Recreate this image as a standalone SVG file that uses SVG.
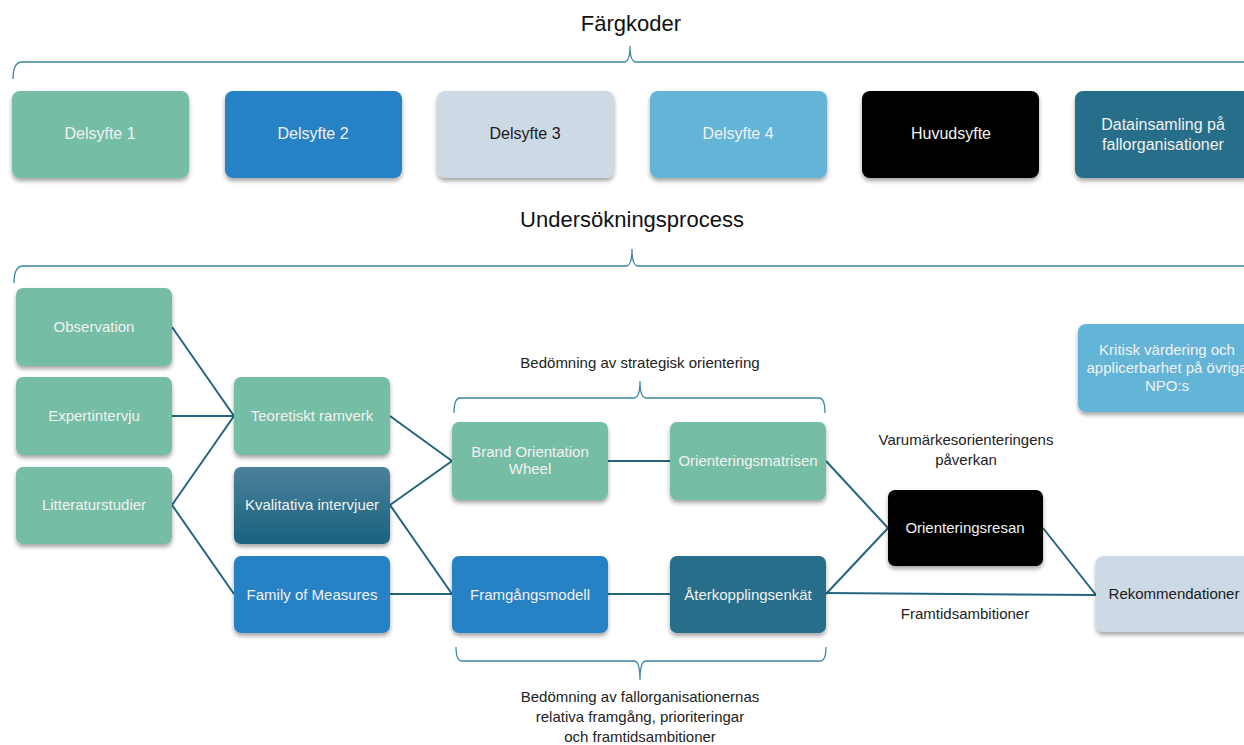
<svg xmlns="http://www.w3.org/2000/svg" width="1244" height="745" viewBox="0 0 1244 745">
  <style>
    .title { font-family: "Liberation Sans", Arial, sans-serif; font-size: 22px; fill: #111; text-anchor: middle; }
    .key   { font-family: "Liberation Sans", Arial, sans-serif; font-size: 16px; text-anchor: middle; }
    .nt    { font-family: "Liberation Sans", Arial, sans-serif; font-size: 15px; text-anchor: middle; }
    .lbl   { font-family: "Liberation Sans", Arial, sans-serif; font-size: 15px; fill: #222; text-anchor: middle; }
    .light { fill: #f2f2f2; }
    .dark  { fill: #1a1a1a; }
    .brace { fill: none; stroke: #3f86a3; stroke-width: 1.3; }
    .link  { fill: none; stroke: #23657f; stroke-width: 2; }
    .box   { filter: url(#shadow); }
    .green { fill: #76bda5; }
    .blue  { fill: #2781c5; }
    .pale  { fill: #cdd9e5; }
    .sky   { fill: #63b4d6; }
    .black { fill: #000000; }
    .teal  { fill: #256e8a; }
  </style>
  <defs>
    <filter id="shadow" x="-10%" y="-10%" width="120%" height="135%">
      <feDropShadow dx="0" dy="3" stdDeviation="2" flood-color="#000" flood-opacity="0.35"/>
    </filter>
    <linearGradient id="tealGrad" x1="0" y1="0" x2="0" y2="1">
      <stop offset="0" stop-color="#4b819b"/>
      <stop offset="1" stop-color="#19627f"/>
    </linearGradient>
  </defs>

  <rect width="1244" height="745" fill="#ffffff"/>

  <!-- Legend -->
  <text class="title" x="631" y="31">Färgkoder</text>
  <path class="brace" d="M13,79 Q13,62 22,62 L624,62 Q630,62 630,46 Q630,62 636,62 L1244,62"/>

  <g id="key1"><rect class="box green" x="12" y="91" width="177" height="87" rx="8"/><text class="key light" x="100" y="139">Delsyfte 1</text></g>
  <g id="key2"><rect class="box blue" x="225" y="91" width="177" height="87" rx="8"/><text class="key light" x="313" y="139">Delsyfte 2</text></g>
  <g id="key3"><rect class="box pale" x="437" y="91" width="177" height="87" rx="8"/><text class="key dark" x="525" y="139">Delsyfte 3</text></g>
  <g id="key4"><rect class="box sky" x="650" y="91" width="177" height="87" rx="8"/><text class="key light" x="738" y="139">Delsyfte 4</text></g>
  <g id="key5"><rect class="box black" x="862" y="91" width="177" height="87" rx="8"/><text class="key light" x="951" y="139">Huvudsyfte</text></g>
  <g id="key6"><rect class="box teal" x="1075" y="91" width="177" height="87" rx="8"/>
    <text class="key light" x="1163" y="130">Datainsamling på</text>
    <text class="key light" x="1163" y="150">fallorganisationer</text></g>

  <!-- Process -->
  <text class="title" x="632" y="227">Undersökningsprocess</text>
  <path class="brace" d="M14,283 Q14,266 23,266 L626,266 Q632,266 632,249 Q632,266 638,266 L1244,266"/>

  <g id="connectors">
    <line class="link" x1="172" y1="327" x2="234" y2="416"/>
    <line class="link" x1="172" y1="416" x2="234" y2="416"/>
    <line class="link" x1="172" y1="505" x2="234" y2="416"/>
    <line class="link" x1="172" y1="505" x2="234" y2="594"/>
    <line class="link" x1="390" y1="416" x2="452" y2="461"/>
    <line class="link" x1="390" y1="505" x2="452" y2="461"/>
    <line class="link" x1="390" y1="505" x2="452" y2="594"/>
    <line class="link" x1="390" y1="594" x2="452" y2="594"/>
    <line class="link" x1="608" y1="461" x2="670" y2="461"/>
    <line class="link" x1="608" y1="594" x2="670" y2="594"/>
    <line class="link" x1="826" y1="461" x2="888" y2="528"/>
    <line class="link" x1="826" y1="594" x2="888" y2="528"/>
    <line class="link" x1="826" y1="593" x2="1096" y2="595"/>
    <line class="link" x1="1043" y1="528" x2="1096" y2="595"/>
  </g>

  <g id="observation"><rect class="box green" x="16" y="288" width="156" height="78" rx="7"/><text class="nt light" x="94" y="332">Observation</text></g>
  <g id="expertintervju"><rect class="box green" x="16" y="377" width="156" height="78" rx="7"/><text class="nt light" x="94" y="421">Expertintervju</text></g>
  <g id="litteraturstudier"><rect class="box green" x="16" y="467" width="156" height="77" rx="7"/><text class="nt light" x="94" y="510">Litteraturstudier</text></g>

  <g id="teoretiskt"><rect class="box green" x="234" y="377" width="156" height="78" rx="7"/><text class="nt light" x="312" y="421">Teoretiskt ramverk</text></g>
  <g id="kvalitativa"><rect class="box" fill="url(#tealGrad)" x="234" y="467" width="156" height="77" rx="7"/><text class="nt light" x="312" y="510">Kvalitativa intervjuer</text></g>
  <g id="family"><rect class="box blue" x="234" y="556" width="156" height="77" rx="7"/><text class="nt light" x="312" y="600">Family of Measures</text></g>

  <g id="bow"><rect class="box green" x="452" y="422" width="156" height="78" rx="7"/>
    <text class="nt light" x="530" y="457">Brand Orientation</text>
    <text class="nt light" x="530" y="474">Wheel</text></g>
  <g id="matrisen"><rect class="box green" x="670" y="422" width="156" height="78" rx="7"/><text class="nt light" x="748" y="466">Orienteringsmatrisen</text></g>
  <g id="framgangsmodell"><rect class="box blue" x="452" y="556" width="156" height="77" rx="7"/><text class="nt light" x="530" y="600">Framgångsmodell</text></g>
  <g id="aterkoppling"><rect class="box teal" x="670" y="556" width="156" height="77" rx="7"/><text class="nt light" x="748" y="600">Återkopplingsenkät</text></g>

  <g id="orienteringsresan"><rect class="box black" x="888" y="490" width="155" height="76" rx="7"/><text class="nt light" x="965" y="533">Orienteringsresan</text></g>
  <g id="rekommendationer"><rect class="box pale" x="1096" y="556" width="156" height="76" rx="7"/><text class="nt dark" x="1174" y="599">Rekommendationer</text></g>
  <g id="kritisk"><rect class="box sky" x="1078" y="324" width="178" height="88" rx="8"/>
    <text class="nt light" x="1167" y="355">Kritisk värdering och</text>
    <text class="nt light" x="1167" y="373">applicerbarhet på övriga</text>
    <text class="nt light" x="1167" y="391">NPO:s</text></g>

  <!-- Annotations -->
  <g id="strategisk">
    <text class="lbl" x="640" y="368">Bedömning av strategisk orientering</text>
    <path class="brace" d="M454,413 Q454,398 460,398 L634,398 Q640,398 640,381 Q640,398 646,398 L819,398 Q825,398 825,413"/>
  </g>
  <g id="paverkan">
    <text class="lbl" x="966" y="445">Varumärkesorienteringens</text>
    <text class="lbl" x="966" y="465">påverkan</text>
  </g>
  <text class="lbl" x="965" y="619">Framtidsambitioner</text>
  <g id="fallorg">
    <path class="brace" d="M456,647 Q456,661 462,661 L634,661 Q640,661 640,680 Q640,661 646,661 L820,661 Q826,661 826,647"/>
    <text class="lbl" x="640" y="702">Bedömning av fallorganisationernas</text>
    <text class="lbl" x="640" y="722">relativa framgång, prioriteringar</text>
    <text class="lbl" x="640" y="742">och framtidsambitioner</text>
  </g>
</svg>
